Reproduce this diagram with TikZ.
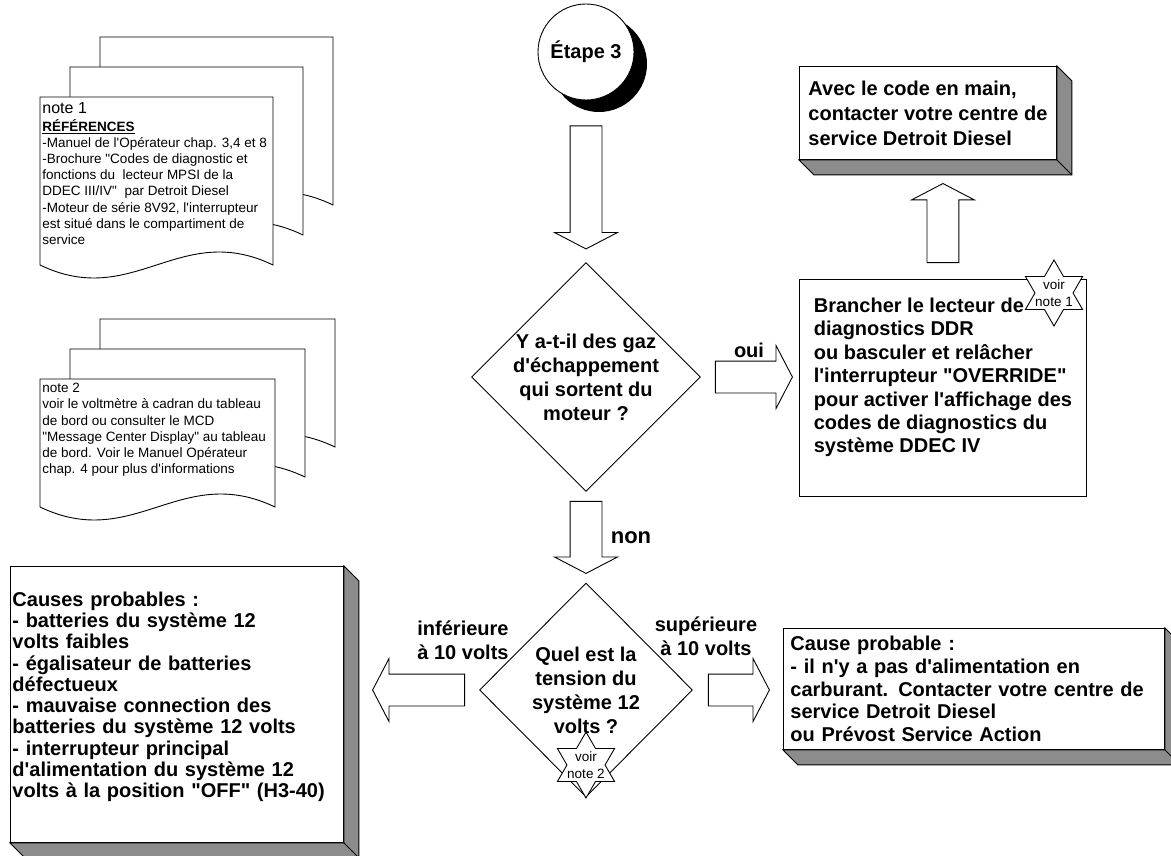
\documentclass[tikz,border=0pt]{standalone}
\usepackage{fontspec}
\setmainfont{Liberation Sans}[Ligatures=TeXOff]
\usetikzlibrary{shapes.geometric,shapes.arrows,shadows,positioning,calc}
\definecolor{sidegray}{RGB}{140,140,140}
\newcommand{\docpage}[4]{%
  \draw[fill=white] (#1,#2+#4) -- (#1,#2) -- (#1+#3,#2) -- (#1+#3,#2+#4)
    .. controls (#1+0.6*#3,#2+#4-45) and (#1+0.4*#3,#2+#4+45) .. (#1,#2+#4) -- cycle;}
\newcommand{\extrude}[1]{%
  \draw[fill=sidegray] (#1.north east) -- ++(15,15) -- ($(#1.south east)+(15,15)$)
    -- ($(#1.south west)+(15,15)$) -- (#1.south west) -- (#1.south east) -- cycle;
  \draw (#1.south east) -- ++(15,15);}

\begin{document}
\begin{tikzpicture}[x=1pt,y=-1pt,line width=0.9pt,
  box/.style={draw,fill=white,align=left,inner ysep=0pt,anchor=north west},
  decision/.style={diamond,draw,fill=white,inner sep=0pt},
  qtext/.style={align=center,font=\bfseries\fontsize{20}{24}\selectfont},
  lbl/.style={align=center,font=\bfseries\fontsize{20}{24}\selectfont},
  star6/.style={star,star points=6,star point ratio=1.732,minimum size=66pt,
    inner sep=0pt,draw,fill=white},
  startext/.style={align=center,font=\fontsize{13.5}{17}\selectfont},
  notetext/.style={align=left,inner sep=1pt,anchor=north west,
    font=\fontsize{13.5}{16.1}\selectfont},
  barrow/.style={single arrow,draw,fill=white,inner sep=15.5pt,
    single arrow head extend=15.5pt,single arrow tip angle=125,minimum height=#1}]

  \useasboundingbox (0,0) rectangle (1171,856);

  % note 1
  \docpage{100}{37}{233}{168}
  \docpage{70}{67}{233}{168}
  \docpage{40}{97}{233}{168}
  \node[notetext] (note1) at (41,101) {{\fontsize{16}{18}\selectfont note 1}\\[2pt]
    \underline{\textbf{RÉFÉRENCES}}\\
    -Manuel de l'Opérateur chap. 3,4 et 8\\
    -Brochure "Codes de diagnostic et\\
    fonctions du\ \ lecteur MPSI de la\\
    DDEC III/IV"\ \ par Detroit Diesel\\
    -Moteur de série 8V92, l'interrupteur\\
    est situé dans le compartiment de\\
    service};

  % note 2
  \docpage{100}{319}{235}{128}
  \docpage{70}{349}{235}{128}
  \docpage{40}{379}{235}{128}
  \node[notetext] (note2) at (41,382) {note 2\\
    voir le voltmètre à cadran du tableau\\
    de bord ou consulter le MCD\\
    "Message Center Display" au tableau\\
    de bord. Voir le Manuel Opérateur\\
    chap. 4 pour plus d'informations};

  % start
  \node[circle,draw,fill=white,minimum size=96pt,inner sep=0pt,
    font=\bfseries\fontsize{20}{24}\selectfont,
    drop shadow={shadow xshift=13pt,shadow yshift=-12pt,fill=black,opacity=1}]
    (etape) at (586,52) {Étape 3};

  % decisions
  \node[decision,minimum width=229pt,minimum height=229pt,
    label={[qtext]center:Y a-t-il des gaz\\d'échappement\\qui sortent du\\moteur ?}]
    (q1) at (586,377) {};
  \node[decision,minimum width=213pt,minimum height=214pt,
    label={[qtext]center:Quel est la\\tension du\\système 12\\volts ?}]
    (q2) at (586,690) {};
  \node[star6,label={[startext]center:voir\\note 2}] (s2) at (586,765) {};

  % actions
  \node[box,minimum width=257pt,minimum height=93pt,inner xsep=8pt,
    font=\bfseries\fontsize{20}{25}\selectfont] (code) at (799,66)
    {Avec le code en main,\\contacter votre centre de\\service Detroit Diesel};
  \extrude{code}
  \node[box,minimum width=287pt,minimum height=217pt,inner xsep=13pt,text depth=25pt,
    font=\bfseries\fontsize{20}{23.4}\selectfont] (ddr) at (799,279)
    {Brancher le lecteur de\\diagnostics DDR\\ou basculer et relâcher\\
     l'interrupteur "OVERRIDE"\\pour activer l'affichage des\\
     codes de diagnostics du\\système DDEC IV};
  \node[star6,label={[startext]center:voir\\note 1}] (s1) at (1054,293) {};
  \node[box,text width=329pt,minimum height=276pt,inner xsep=2pt,text depth=211pt,
    font=\bfseries\fontsize{20}{21.3}\selectfont] (low) at (10,566)
    {Causes probables :\\- batteries du système 12\\volts faibles\\
     - égalisateur de batteries\\défectueux\\- mauvaise connection des\\
     batteries du système 12 volts\\- interrupteur principal\\
     d'alimentation du système 12\\volts à la position "OFF" (H3-40)};
  \extrude{low}
  \node[box,text width=367pt,minimum height=121pt,inner xsep=7pt,
    font=\bfseries\fontsize{20}{22.8}\selectfont] (high) at (783,628)
    {Cause probable :\\- il n'y a pas d'alimentation en\\
     carburant. Contacter votre centre de\\service Detroit Diesel\\
     ou Prévost Service Action};
  \extrude{high}

  % block arrows
  \node[barrow=123pt,shape border rotate=270,anchor=tail] (a1) at ([yshift=-25pt]etape.south) {};
  \node[barrow=77pt,anchor=tail] (a2) at ([xshift=14pt]q1.east) {};
  \node[barrow=79pt,shape border rotate=90,anchor=tail] (a3) at ([yshift=16pt]ddr.north) {};
  \node[barrow=72pt,shape border rotate=270,anchor=tail] (a4) at ([yshift=-9pt]q1.south) {};
  \node[barrow=92pt,shape border rotate=180,anchor=tail] (a5) at ([xshift=-14pt]q2.west) {};
  \node[barrow=61pt,anchor=tail] (a6) at ([xshift=15pt]q2.east) {};

  % answers
  \node[lbl] (oui) at (749,350) {oui};
  \node[lbl,font=\bfseries\fontsize{22}{24}\selectfont] (non) at (631,538) {non};
  \node[lbl] (inf) at (463,640) {inférieure\\à 10 volts};
  \node[lbl] (sup) at (706,636) {supérieure\\à 10 volts};

\end{tikzpicture}
\end{document}
